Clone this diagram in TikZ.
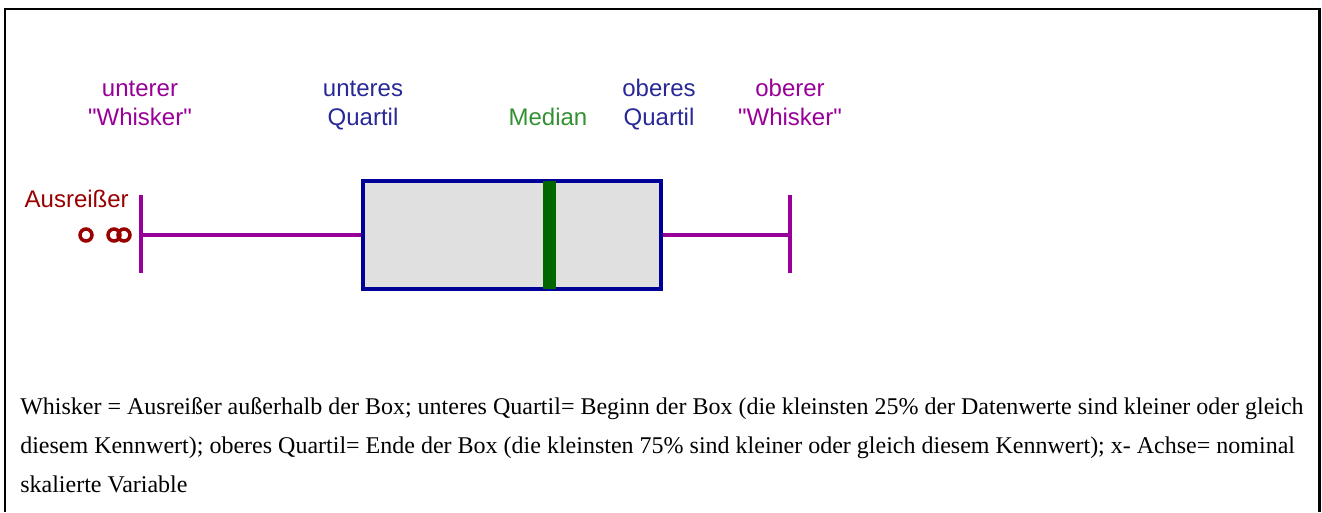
\documentclass[tikz,border=0pt]{standalone}
\usepackage{fontspec}
\setmainfont{Liberation Serif}
\newfontfamily\labelfont{Liberation Sans}
\definecolor{whiskc}{RGB}{153,0,153}
\definecolor{quartc}{RGB}{0,0,153}
\definecolor{quarttext}{RGB}{40,40,150}
\definecolor{medc}{RGB}{0,102,0}
\definecolor{medtext}{RGB}{51,145,51}
\definecolor{outc}{RGB}{153,0,0}
\definecolor{boxfill}{RGB}{224,224,224}
\tikzset{
  lbl/.style={anchor=base, inner sep=0pt, font=\labelfont\fontsize{18pt}{21pt}\selectfont},
  note/.style={anchor=base west, inner sep=0pt, font=\fontsize{18pt}{21pt}\selectfont},
  whiskline/.style={draw=whiskc, line width=2.7pt},
  outlier/.style={circle, draw=outc, line width=2.6pt, minimum size=9pt, inner sep=0pt},
}
\begin{document}
\begin{tikzpicture}[x=0.75pt, y=-0.75pt]
\useasboundingbox (0,0) rectangle (1322,512);
% frame
\draw[line width=2.2pt] (5,512) -- (5,9) -- (1319.5,9) -- (1319.5,512);

% labels above the plot
\node[lbl, text=whiskc] (uw1) at (140,96) {unterer};
\node[lbl, text=whiskc] (uw2) at (140,125) {"Whisker"};
\node[lbl, text=quarttext] (uq1) at (363,96) {unteres};
\node[lbl, text=quarttext] (uq2) at (363,125) {Quartil};
\node[lbl, text=medtext] (md) at (548,125) {Median};
\node[lbl, text=quarttext] (oq1) at (659,96) {oberes};
\node[lbl, text=quarttext] (oq2) at (659,125) {Quartil};
\node[lbl, text=whiskc] (ow1) at (790,96) {oberer};
\node[lbl, text=whiskc] (ow2) at (790,125) {"Whisker"};
\node[lbl, anchor=base east, text=outc] (aus) at (129,207) {Ausreißer};

% box
\node[draw=quartc, fill=boxfill, line width=2.8pt, minimum width=298*0.75pt,
      minimum height=108*0.75pt, inner sep=0pt] (box) at (512,235) {};
\coordinate (mt) at (549.5,181);
\coordinate (mb) at (549.5,289);
\draw[medc, line width=9.5pt] (mt) -- (mb);

% whiskers
\coordinate (lw) at (141,235);
\coordinate (lwt) at (141,195);
\coordinate (lwb) at (141,273);
\coordinate (rw) at (790,235);
\coordinate (rwt) at (790,195);
\coordinate (rwb) at (790,273);
\draw[whiskline] (lw) -- (box.west);
\draw[whiskline] (box.east) -- (rw);
\draw[whiskline] (lwt) -- (lwb);
\draw[whiskline] (rwt) -- (rwb);

% outliers
\node[outlier] (o1) at (86,235) {};
\node[outlier] (o2) at (114,235) {};
\node[outlier] (o3) at (124,235) {};

% explanatory text
\node[note] (t1) at (20,414) {Whisker = Ausreißer außerhalb der Box; unteres Quartil= Beginn der Box (die kleinsten 25\% der Datenwerte sind kleiner oder gleich};
\node[note] (t2) at (20,453) {diesem Kennwert); oberes Quartil= Ende der Box (die kleinsten 75\% sind kleiner oder gleich diesem Kennwert); x- Achse= nominal};
\node[note] (t3) at (20,492) {skalierte Variable};
\end{tikzpicture}
\end{document}
